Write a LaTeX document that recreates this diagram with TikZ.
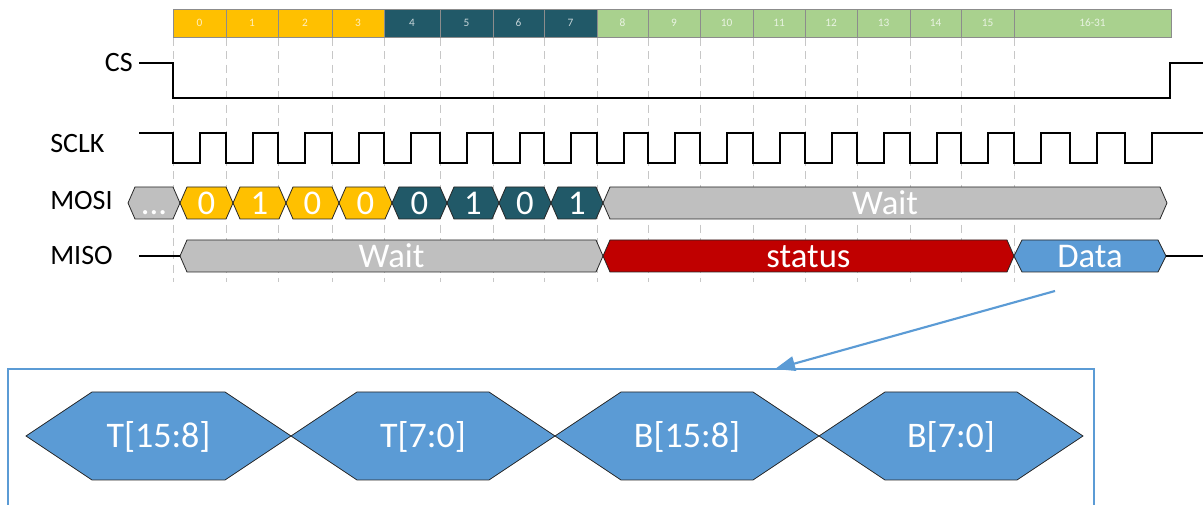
\documentclass[tikz,border=0pt]{standalone}
\usepackage{fontspec}
\setmainfont{Carlito}
\usetikzlibrary{arrows.meta}

\definecolor{byteyel}{HTML}{FFC000}
\definecolor{byteteal}{HTML}{215968}
\definecolor{bytegrn}{HTML}{A9D18E}
\definecolor{waitgry}{HTML}{BFBFBF}
\definecolor{statred}{HTML}{C00000}
\definecolor{datablu}{HTML}{5B9BD5}

\tikzset{
  wave/.style={line width=1.2pt, black},
  tick/.style={draw=black!22, line width=0.75pt, dash pattern=on 6pt off 4pt},
  cell/.style={draw=black!45, line width=0.6pt},
  celltext/.style={text=white, text opacity=0.75, font=\fontsize{8.5}{10}\selectfont, inner sep=0pt},
  hexline/.style={draw=black!85, line width=0.6pt},
  hextext/.style={text=white, font=\fontsize{26}{28}\selectfont, inner sep=0pt, text height=16.7pt, text depth=0pt},
  bigtext/.style={text=white, font=\fontsize{27}{30}\selectfont, inner sep=0pt, text height=17.4pt, text depth=0pt},
  lbl/.style={font=\fontsize{21}{24}\selectfont, inner sep=0pt},
  framebox/.style={draw=datablu, line width=1.1pt},
  ptr/.style={draw=datablu, line width=1.6pt, -{Triangle[length=15pt,width=11pt]}}
}

\newcommand{\hexsig}[9]{%
  \draw[hexline, fill=#7] (#2,#4) -- (#2+#6,#4-#5) -- (#3-#6,#4-#5) -- (#3,#4)
    -- (#3-#6,#4+#5) -- (#2+#6,#4+#5) -- cycle;
  \coordinate (#1-l) at (#2,#4);
  \coordinate (#1-r) at (#3,#4);
  \node[#9] (#1) at ({(#2+#3)/2},#4) {#8};
}

\begin{document}
\begin{tikzpicture}[x=0.75pt, y=-0.75pt]
\useasboundingbox (0,0) rectangle (1203,505);

\foreach \x in {173,226,278,332,384,440,493,544,597,648,700,753,805,857,910,961,1014}
  \draw[tick] (\x,38) -- (\x,282);

\foreach \xa/\xb/\lab/\col [count=\i] in {173/226/0/byteyel, 226/278/1/byteyel, 278/332/2/byteyel, 332/384/3/byteyel,
    384/440/4/byteteal, 440/493/5/byteteal, 493/544/6/byteteal, 544/597/7/byteteal,
    597/648/8/bytegrn, 648/700/9/bytegrn, 700/753/10/bytegrn, 753/805/11/bytegrn,
    805/857/12/bytegrn, 857/910/13/bytegrn, 910/961/14/bytegrn, 961/1014/15/bytegrn, 1014/1171/16-31/bytegrn}
{
  \draw[cell, fill=\col] (\xa,9) rectangle (\xb,37);
  \node[celltext] (cell\i) at ({(\xa+\xb)/2},23) {\lab};
}

\node[lbl, anchor=base east] (cslbl) at (133,72) {CS};
\node[lbl, anchor=base west] (sclklbl) at (50,153) {SCLK};
\node[lbl, anchor=base west] (mosilbl) at (50,210) {MOSI};
\node[lbl, anchor=base west] (misolbl) at (50,265) {MISO};

\draw[wave] (139,63) -- (173,63) -- (173,98) -- (1170,98) -- (1170,63) -- (1203,63);

\draw[wave] (139,133) \foreach \xf in {173,226,278,332,384,440,493,544,597,648,700,753,805,857,910,961,1014,1070,1125}
  { -- (\xf,133) -- (\xf,163) -- (\xf+27,163) -- (\xf+27,133) } -- (1203,133);

\hexsig{mosidots}{128}{180}{203}{16}{7}{waitgry}{...}{hextext}
\foreach \xa/\xb/\bit/\col [count=\i] in {180/233/0/byteyel, 233/286/1/byteyel, 286/339/0/byteyel, 339/392/0/byteyel,
    392/447/0/byteteal, 447/499/1/byteteal, 499/551/0/byteteal, 551/603/1/byteteal}
  \hexsig{mosi\i}{\xa}{\xb}{203}{16}{7}{\col}{\bit}{hextext};
\hexsig{mosiwait}{603}{1167}{203}{16}{7}{waitgry}{Wait}{hextext}

\coordinate (misoin) at (139,256);
\coordinate (misoout) at (1203,256);
\hexsig{misowait}{180}{603}{256}{16}{7}{waitgry}{Wait}{hextext}
\hexsig{misostat}{603}{1014}{256}{16}{7}{statred}{status}{hextext}
\hexsig{misodata}{1014}{1166}{256}{16}{8}{datablu}{Data}{hextext}
\draw[wave] (misoin) -- (misowait-l);
\draw[wave] (misodata-r) -- (misoout);

\draw[framebox] (8,510) -- (8,369) -- (1094,369) -- (1094,510);

\hexsig{tHi}{26}{291}{436}{44}{66}{datablu}{T[15:8]}{bigtext}
\hexsig{tLo}{291}{555}{436}{44}{66}{datablu}{T[7:0]}{bigtext}
\hexsig{bHi}{555}{819}{436}{44}{66}{datablu}{B[15:8]}{bigtext}
\hexsig{bLo}{819}{1083}{436}{44}{66}{datablu}{B[7:0]}{bigtext}

\coordinate (datatail) at (1055,291);
\coordinate (boxhit) at (775,369);
\draw[ptr] (datatail) -- (boxhit);

\end{tikzpicture}
\end{document}
